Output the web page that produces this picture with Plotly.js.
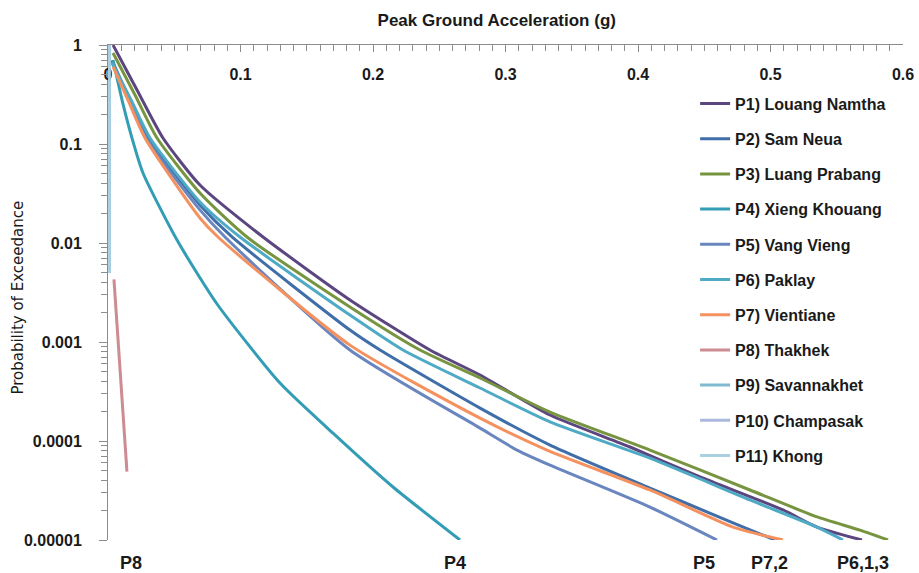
<!DOCTYPE html>
<html>
<head>
<meta charset="utf-8">
<script src="https://cdn.plot.ly/plotly-3.0.1.min.js"></script>
<style>html,body{margin:0;padding:0;background:#fff;}#chart{width:919px;height:573px;}</style>
</head>
<body>
<div id="chart"></div>
<script>
// ---- data (PGA in g, probability of exceedance) ----
var siteNames = ["P1) Louang Namtha","P2) Sam Neua","P3) Luang Prabang","P4) Xieng Khouang","P5) Vang Vieng","P6) Paklay","P7) Vientiane","P8) Thakhek","P9) Savannakhet","P10) Champasak","P11) Khong"];

var pgaP1 = [0.0038,0.0219,0.0415,0.0694,0.117,0.1826,0.243,0.2808,0.3336,0.394,0.4468,0.5094,0.5351,0.569];
var poeP1 = [1.0,0.351,0.115,0.0385,0.0115,0.00266,0.00083,0.000464,0.000183,8.7e-5,4.33e-5,2.01e-5,1.35e-5,1.0e-5];

var pgaP2 = [0.003,0.0166,0.0302,0.0694,0.0936,0.1826,0.2053,0.2808,0.3336,0.409,0.4717,0.5034];
var poeP2 = [0.70,0.278,0.115,0.0242,0.0115,0.00132,0.00083,0.000215,9.1e-5,3.35e-5,1.49e-5,1.0e-5];

var pgaP3 = [0.0038,0.0204,0.037,0.0694,0.1049,0.1826,0.2355,0.2808,0.3336,0.409,0.4845,0.5351,0.5675,0.5887];
var poeP3 = [0.83,0.313,0.115,0.032,0.0115,0.00226,0.00083,0.000433,0.000196,8.1e-5,3.2e-5,1.71e-5,1.26e-5,1.0e-5];

var pgaP4 = [0.0038,0.0106,0.0181,0.0264,0.0521,0.0823,0.1298,0.1698,0.2151,0.2657];
var poeP4 = [0.705,0.278,0.115,0.051,0.0107,0.00242,0.000385,0.00012,3.43e-5,1.0e-5];

var pgaP5 = [0.003,0.0158,0.0287,0.0694,0.0883,0.1826,0.2808,0.3087,0.3336,0.409,0.4596];
var poeP5 = [0.67,0.278,0.115,0.0216,0.0115,0.00083,0.000135,8.1e-5,5.7e-5,2.15e-5,1.0e-5];

var pgaP6 = [0.003,0.0174,0.0317,0.0694,0.0996,0.1826,0.2226,0.2808,0.3336,0.409,0.4845,0.5351,0.5547];
var poeP6 = [0.66,0.278,0.115,0.026,0.0115,0.00187,0.00083,0.000343,0.000156,6.7e-5,2.54e-5,1.35e-5,1.0e-5];

var pgaP7 = [0.0038,0.0151,0.0279,0.0694,0.083,0.1826,0.2808,0.3313,0.409,0.4717,0.5094];
var poeP7 = [0.6,0.278,0.115,0.0179,0.0115,0.00093,0.00017,8.1e-5,3.2e-5,1.35e-5,1.0e-5];

var pgaP8 = [0.0045,0.0143];
var poeP8 = [0.0043,4.9e-5];

var pgaP9 = [0.0008,0.0008];
var poeP9 = [1.0,0.005];
var pgaP10 = [0.0008,0.0008];
var poeP10 = [1.0,0.005];
var pgaP11 = [0.0008,0.0008];
var poeP11 = [1.0,0.005];

var xTickVals = [0,0.1,0.2,0.3,0.4,0.5,0.6];
var xTickText = ["0","0.1","0.2","0.3","0.4","0.5","0.6"];
var yTickVals = [1,0.1,0.01,0.001,0.0001,0.00001];
var yTickText = ["1","0.1","0.01","0.001","0.0001","0.00001"];
var yMinorVals = [];
[0.1,0.01,0.001,0.0001,0.00001].forEach(function(d){for(var k=2;k<=9;k++){yMinorVals.push(d*k);}});

var endLabels = ["P8","P4","P5","P7,2","P6,1,3"];
var xTitle = "Peak Ground Acceleration (g)";
var yTitle = "Probability of Exceedance";

// ---- styling ----
var colors = ['#5b4680','#3f6ea8','#779540','#339db5','#6a86bf','#4faac6','#f4915f','#cc8c92','#7fbad0','#a9b8dc','#a9d0de'];
var xs = [pgaP1,pgaP2,pgaP3,pgaP4,pgaP5,pgaP6,pgaP7,pgaP8,pgaP9,pgaP10,pgaP11];
var ys = [poeP1,poeP2,poeP3,poeP4,poeP5,poeP6,poeP7,poeP8,poeP9,poeP10,poeP11];

var FONT = '"Liberation Sans", Arial, sans-serif';
var traces = [];
for (var i = 0; i < siteNames.length; i++) {
  traces.push({
    type: 'scatter', mode: 'lines',
    x: xs[i], y: ys[i], name: siteNames[i], legendgroup: 'g' + i,
    line: {color: colors[i], width: 3, shape: 'spline', smoothing: 0.6}
  });
}

var labelX = [0.0174,0.262,0.45,0.4996,0.57];
var annotations = endLabels.map(function(t, k){
  return {text: t, x: labelX[k], xref: 'x', y: -0.047, yref: 'paper', yanchor: 'middle', xanchor: 'center',
          showarrow: false, font: {family: FONT, size: 18, color: '#1a1a1a', weight: 700}};
});
annotations.push({text: yTitle, textangle: -90, x: -0.113, xref: 'paper', xanchor: 'center',
                  y: 0.49, yref: 'paper', yanchor: 'middle', showarrow: false,
                  font: {family: '"DejaVu Sans", sans-serif', size: 15, color: '#1a1a1a'}});

var layout = {
  width: 919, height: 573,
  margin: {l: 108, r: 16, t: 45, b: 33},
  paper_bgcolor: '#ffffff', plot_bgcolor: '#ffffff',
  showlegend: true,
  legend: {x: 0.7385, xanchor: 'left', y: 0.916, yanchor: 'top', bgcolor: 'rgba(0,0,0,0)',
           tracegroupgap: 11.4, font: {family: FONT, size: 16, color: '#1a1a1a', weight: 700}},
  title: {text: xTitle, x: 0.489, xref: 'paper', xanchor: 'center', y: 1 - 20/573, yanchor: 'middle',
          font: {family: FONT, size: 17, color: '#1a1a1a', weight: 700}},
  xaxis: {
    side: 'top', range: [0, 0.6], showgrid: false, zeroline: false,
    showline: true, linecolor: '#8c8c8c', linewidth: 1,
    tickmode: 'array', tickvals: xTickVals, ticktext: xTickText,
    ticks: 'inside', ticklen: 7, tickcolor: '#8c8c8c',
    ticklabelposition: 'inside', ticklabeloverflow: 'allow', ticklabelstandoff: 17,
    tickfont: {family: FONT, size: 16, color: '#1a1a1a', weight: 700},
    minor: {dtick: 0.01, ticks: 'inside', ticklen: 6, tickcolor: '#8c8c8c', showgrid: false},
    layer: 'below traces'
  },
  xaxis2: {
    overlaying: 'x', side: 'top', anchor: 'y', range: [0, 0.6], showgrid: false, zeroline: false,
    showline: false, tickmode: 'array', tickvals: xTickVals, ticks: 'outside', ticklen: 7,
    tickcolor: '#8c8c8c', showticklabels: false
  },
  yaxis: {
    type: 'log', range: [-5, 0], showgrid: false, zeroline: false,
    showline: true, linecolor: '#8c8c8c', linewidth: 1,
    tickmode: 'array', tickvals: yTickVals, ticktext: yTickText,
    ticks: 'outside', ticklen: 8, tickcolor: '#8c8c8c', ticklabelstandoff: 14,
    tickfont: {family: FONT, size: 16, color: '#1a1a1a', weight: 700},
    minor: {tickmode: 'array', tickvals: yMinorVals, ticks: 'outside', ticklen: 6, tickcolor: '#8c8c8c', showgrid: false},
    layer: 'below traces'
  },
  yaxis2: {
    overlaying: 'y', side: 'left', anchor: 'x', type: 'log', range: [-5, 0], showgrid: false, zeroline: false,
    showline: false, tickmode: 'array', tickvals: yTickVals, ticks: 'inside', ticklen: 7,
    tickcolor: '#8c8c8c', showticklabels: false
  },
  annotations: annotations
};

Plotly.newPlot('chart', traces, layout, {displayModeBar: false, staticPlot: true});
</script>
</body>
</html>
